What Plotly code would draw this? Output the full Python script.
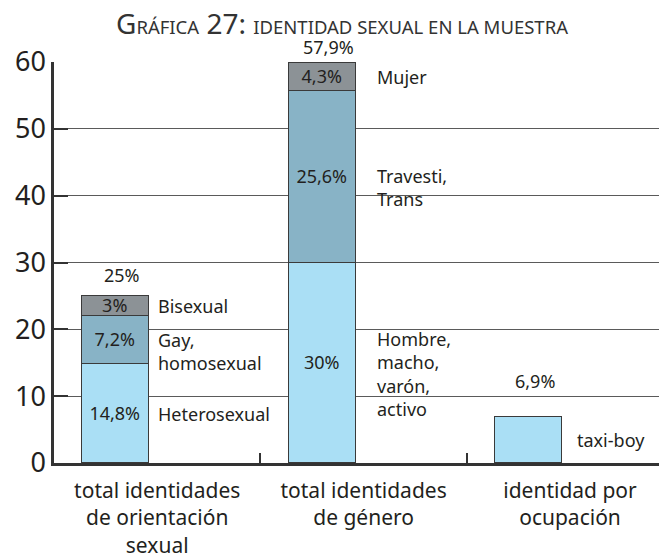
import plotly.graph_objects as go

categories = ["total identidades<br>de orientación<br>sexual",
              "total identidades<br>de género",
              "identidad por<br>ocupación"]
level1 = [14.8, 30.0, 6.9]
level2 = [7.2, 25.6, None]
level3 = [3.0, 4.3, None]
level1_names = ["Heterosexual", "Hombre,<br>macho,<br>varón,<br>activo", "taxi-boy"]
level2_names = ["Gay,<br>homosexual", "Travesti,<br>Trans", None]
level3_names = ["Bisexual", "Mujer", None]
totals = [25, 57.9, 6.9]
show_inside = [True, True, False]
y_ticks = [0, 10, 20, 30, 40, 50, 60]

colors = ["#aadff5", "#88b3c6", "#8c9296"]
FONT = "Noto Sans"
TXT = "#231f20"

def fmt(v):
    return f"{v:g}".replace(".", ",") + "%"

xs = [0, 1, 2]
BAR_W = 0.325
BAR_OFF = -0.363
levels = [level1, level2, level3]
names_all = [level1_names, level2_names, level3_names]

# page body has an 8px default margin: figure coordinates are offset by 8px
ML, MT, MR, MB = 46, 54, 8, 99
PW, PH = 667 - ML - MR, 554 - MT - MB

fig = go.Figure()
for lvl, col in zip(levels, colors):
    txt = [fmt(v) if (v is not None and show_inside[i]) else "" for i, v in enumerate(lvl)]
    fig.add_trace(go.Bar(
        x=xs, y=lvl, width=BAR_W, offset=BAR_OFF,
        marker=dict(color=col, line=dict(color="#3a3a3a", width=1.5)),
        text=txt, textposition="inside", insidetextanchor="middle",
        constraintext="none", textangle=0,
        textfont=dict(family=FONT, size=18, color=TXT),
        hoverinfo="skip", showlegend=False, cliponaxis=False,
    ))

annotations = []
name_xshift = [7, 19, 13]
for k, (lvl, names) in enumerate(zip(levels, names_all)):
    for i in range(3):
        if lvl[i] is None or names[i] is None:
            continue
        base = sum((levels[j][i] or 0) for j in range(k))
        nlines = names[i].count("<br>") + 1
        ysh = 0 if nlines == 1 else -11
        annotations.append(dict(
            x=xs[i] + BAR_OFF + BAR_W, y=base + lvl[i] / 2,
            xref="x", yref="y", text=names[i], showarrow=False,
            xanchor="left", yanchor="middle", align="left",
            xshift=name_xshift[i], yshift=ysh,
            font=dict(family=FONT, size=18, color=TXT),
        ))

tot_yshift = [21, 16, 36]
for i, t in enumerate(totals):
    top = sum((l[i] or 0) for l in levels)
    annotations.append(dict(
        x=xs[i] + BAR_OFF + BAR_W / 2, y=top, xref="x", yref="y",
        text=fmt(t), showarrow=False, xanchor="center", yanchor="middle",
        xshift=6, yshift=tot_yshift[i],
        font=dict(family=FONT, size=18, color=TXT),
    ))

# title (small caps), centred at screen (342, 23)
annotations.append(dict(
    x=(342 - 8 - ML) / PW, y=(MT + PH - (23 - 8)) / PH, xref="paper", yref="paper",
    showarrow=False,
    text="G<span style='font-size:18.5px'>RÁFICA</span> 27: "
         "<span style='font-size:18.5px'>IDENTIDAD SEXUAL EN LA MUESTRA</span>",
    font=dict(family=FONT, size=28, color="#333333"),
    xanchor="center", yanchor="middle",
))

fig.update_layout(
    width=667, height=554,
    margin=dict(l=ML, r=MR, t=MT, b=MB, autoexpand=False),
    plot_bgcolor="white", paper_bgcolor="white",
    barmode="stack", bargap=0,
    uniformtext=dict(minsize=18, mode="show"),
    annotations=annotations,
    xaxis=dict(
        range=[-0.5, 2.47], tickmode="array", tickvals=xs, ticktext=categories,
        ticks="", showgrid=False, zeroline=False, automargin=False,
        showline=True, linecolor="#333333", linewidth=2.5,
        tickfont=dict(family=FONT, size=21, color=TXT),
        ticklabelstandoff=7,
        minor=dict(tickmode="array", tickvals=[0.5, 1.5], ticks="inside",
                   ticklen=10, tickwidth=2, tickcolor="#333333", showgrid=False),
    ),
    yaxis=dict(
        range=[0, 60], tickmode="array", tickvals=y_ticks,
        ticks="inside", ticklen=14, tickwidth=2, tickcolor="#333333",
        showline=True, linecolor="#333333", linewidth=2.5, automargin=False,
        showgrid=True, gridcolor="#5a5a5a", gridwidth=1, zeroline=False,
        tickfont=dict(family=FONT, size=27, color=TXT),
    ),
)

fig.write_html("out.html")
